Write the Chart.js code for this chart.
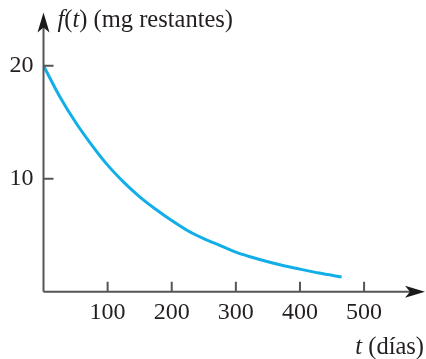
<!DOCTYPE html>
<html>
<head>
<meta charset="utf-8">
<script src="https://cdn.jsdelivr.net/npm/chart.js@4/dist/chart.umd.min.js"></script>
<style>
  body { margin: 0; background: #fff; }
  #wrap { width: 426px; height: 359px; }
</style>
</head>
<body>
<div id="wrap"><canvas id="myChart" width="426" height="359"></canvas></div>
<script>
// values
let days = [0, 25, 50, 75, 100, 125, 150, 175, 200, 225, 250, 275, 300, 325, 350, 375, 400, 430, 465];
let mgLeft = [20, 17.3, 15.0, 13.0, 11.2, 9.7, 8.4, 7.3, 6.3, 5.4, 4.7, 4.1, 3.5, 3.05, 2.65, 2.3, 2.0, 1.65, 1.3];
let xTicks = [100, 200, 300, 400, 500];
let yTicks = [10, 20];

const axisColor = '#555555';
const serif = '"Liberation Serif", "DejaVu Serif", serif';

let points = [];
for (let i = 0; i < days.length; i++) {
    points.push({ x: days[i], y: mgLeft[i] });
}

// draws the arrowed axes, small ticks and the labels
const axesPlugin = {
    id: 'axes',
    afterDatasetsDraw(chart) {
        const ctx = chart.ctx;
        const xs = chart.scales.x;
        const ys = chart.scales.y;
        const x0 = xs.getPixelForValue(0);
        const y0 = ys.getPixelForValue(0);
        const xEnd = xs.getPixelForValue(xs.max);
        const yEnd = ys.getPixelForValue(ys.max);

        ctx.save();
        ctx.strokeStyle = axisColor;
        ctx.lineWidth = 2;

        ctx.beginPath();
        ctx.moveTo(x0, y0);
        ctx.lineTo(xEnd - 10, y0);
        ctx.moveTo(x0, y0);
        ctx.lineTo(x0, yEnd + 10);
        ctx.stroke();

        ctx.fillStyle = '#1a1a1a';
        // x arrow
        ctx.beginPath();
        ctx.moveTo(xEnd, y0);
        ctx.lineTo(xEnd - 20, y0 - 6);
        ctx.lineTo(xEnd - 15, y0);
        ctx.lineTo(xEnd - 20, y0 + 6);
        ctx.closePath();
        ctx.fill();
        // y arrow
        ctx.beginPath();
        ctx.moveTo(x0, yEnd);
        ctx.lineTo(x0 - 6, yEnd + 20);
        ctx.lineTo(x0, yEnd + 15);
        ctx.lineTo(x0 + 6, yEnd + 20);
        ctx.closePath();
        ctx.fill();

        ctx.strokeStyle = axisColor;
        ctx.beginPath();
        xTicks.forEach(v => {
            const px = xs.getPixelForValue(v);
            ctx.moveTo(px, y0);
            ctx.lineTo(px, y0 - 10);
        });
        yTicks.forEach(v => {
            const py = ys.getPixelForValue(v);
            ctx.moveTo(x0, py);
            ctx.lineTo(x0 + 10, py);
        });
        ctx.stroke();

        ctx.fillStyle = '#231f20';
        ctx.font = '24px ' + serif;
        ctx.textBaseline = 'middle';
        ctx.textAlign = 'center';
        xTicks.forEach(v => {
            ctx.fillText(String(v), xs.getPixelForValue(v), y0 + 21);
        });
        ctx.textAlign = 'right';
        yTicks.forEach(v => {
            ctx.fillText(String(v), x0 - 10, ys.getPixelForValue(v));
        });

        // y title: f(t) (mg restantes)
        let parts = [
            ['f', 'italic'], ['(', ''], ['t', 'italic'], [')', ''], [' (mg restantes)', '']
        ];
        ctx.textAlign = 'left';
        let tx = x0 + 14;
        parts.forEach(p => {
            ctx.font = (p[1] ? p[1] + ' ' : '') + '24.5px ' + serif;
            ctx.fillText(p[0], tx, yEnd + 8);
            tx += ctx.measureText(p[0]).width;
        });

        // x title: t (días)
        ctx.textAlign = 'right';
        ctx.font = '24.5px ' + serif;
        const rest = ' (días)';
        ctx.fillText(rest, xEnd - 1, y0 + 56);
        const w = ctx.measureText(rest).width;
        ctx.font = 'italic 24.5px ' + serif;
        ctx.fillText('t', xEnd - 1 - w, y0 + 56);

        ctx.restore();
    }
};

function renderChart() {
    const ctx = document.getElementById('myChart');

    new Chart(ctx, {
        type: 'line',
        data: {
            datasets: [{
                data: points,
                borderColor: '#12aee8',
                borderWidth: 3,
                pointRadius: 0,
                cubicInterpolationMode: 'monotone',
                fill: false
            }]
        },
        options: {
            responsive: false,
            animation: false,
            layout: {
                padding: { left: 43.5, right: 1, top: 12.6, bottom: 67.3 }
            },
            plugins: {
                legend: { display: false },
                tooltip: { enabled: false }
            },
            scales: {
                x: { type: 'linear', min: 0, max: 595, display: false },
                y: { min: 0, max: 24.7, display: false }
            }
        },
        plugins: [axesPlugin]
    });
}

renderChart();
</script>
</body>
</html>
